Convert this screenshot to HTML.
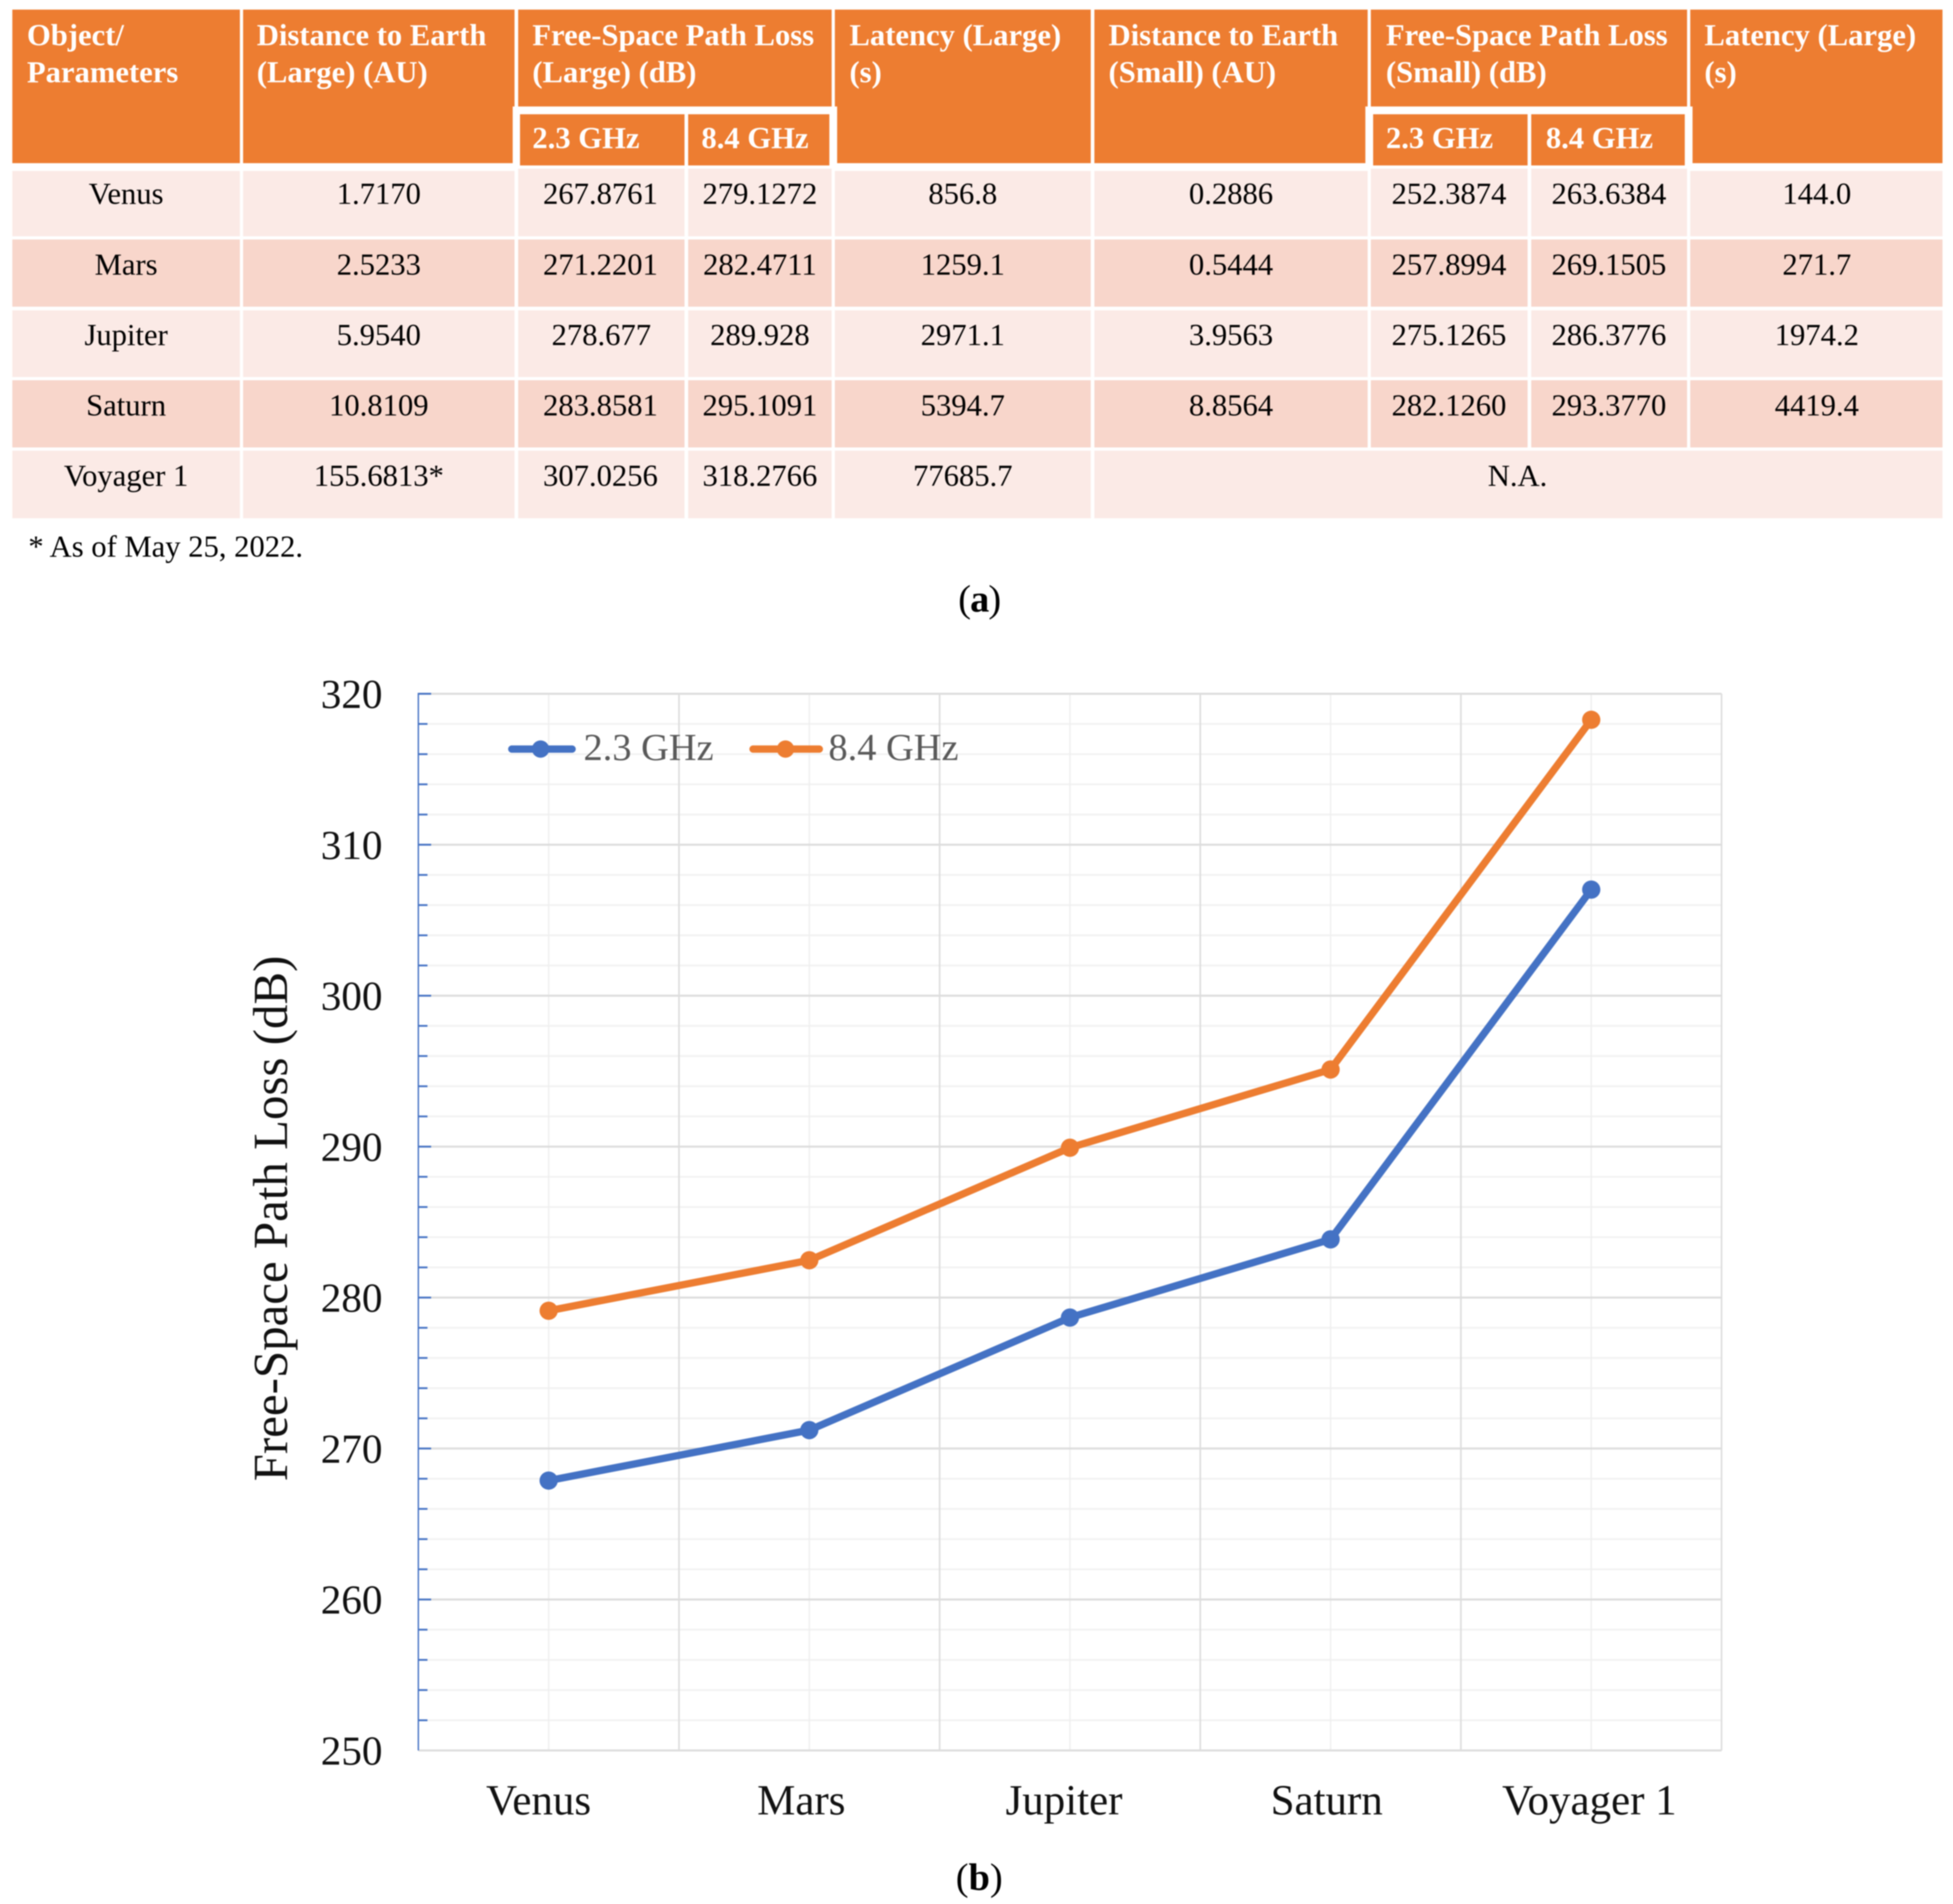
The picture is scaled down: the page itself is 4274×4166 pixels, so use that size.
<!DOCTYPE html>
<html lang="en">
<head>
<meta charset="utf-8">
<title>Free-Space Path Loss table and chart</title>
<style>
html,body{margin:0;padding:0;background:#fff;}
svg{display:block;font-family:"Liberation Serif",serif;filter:blur(1.2px);}
.h{fill:#ED7D31;}
.l{fill:#FBEAE6;}
.d{fill:#F8D6CB;}
.ht{fill:#fff;font-size:67px;font-weight:bold;}
.bt{fill:#000;font-size:67px;text-anchor:middle;}
</style>
</head>
<body>
<svg id="page" xmlns="http://www.w3.org/2000/svg" width="4274" height="4166" viewBox="0 0 4274 4166">
<rect x="0" y="0" width="4274" height="4166" fill="#fff"/>

<g>
<g>
<g><rect class="h" x="27" y="21" width="498" height="336"/><text class="ht" x="59" y="99">Object/</text><text class="ht" x="59" y="180">Parameters</text></g>
<g><polygon class="h" points="532,21 1126,21 1126,233 1122,233 1122,357 532,357"/><text class="ht" x="562" y="99">Distance to Earth</text><text class="ht" x="562" y="180">(Large) (AU)</text></g>
<g><rect class="h" x="1134" y="21" width="686" height="212"/><text class="ht" x="1165" y="99">Free-Space Path Loss</text><text class="ht" x="1165" y="180">(Large) (dB)</text></g>
<g><rect class="h" x="1138" y="250" width="360" height="112"/><text class="ht" x="1165" y="324">2.3 GHz</text></g>
<g><rect class="h" x="1506" y="250" width="309" height="112"/><text class="ht" x="1535" y="324">8.4 GHz</text></g>
<g><polygon class="h" points="1827,21 2387,21 2387,357 1832,357 1832,233 1827,233"/><text class="ht" x="1859" y="99">Latency (Large)</text><text class="ht" x="1859" y="180">(s)</text></g>
<g><polygon class="h" points="2395,21 2993,21 2993,233 2988,233 2988,357 2395,357"/><text class="ht" x="2426" y="99">Distance to Earth</text><text class="ht" x="2426" y="180">(Small) (AU)</text></g>
<g><rect class="h" x="3000" y="21" width="692" height="212"/><text class="ht" x="3033" y="99">Free-Space Path Loss</text><text class="ht" x="3033" y="180">(Small) (dB)</text></g>
<g><rect class="h" x="3005" y="250" width="338" height="112"/><text class="ht" x="3033" y="324">2.3 GHz</text></g>
<g><rect class="h" x="3351" y="250" width="336" height="112"/><text class="ht" x="3383" y="324">8.4 GHz</text></g>
<g><polygon class="h" points="3699,21 4251,21 4251,357 3704,357 3704,233 3699,233"/><text class="ht" x="3730" y="99">Latency (Large)</text><text class="ht" x="3730" y="180">(s)</text></g>
</g>

<g>
<rect class="l" x="27" y="374" width="498" height="143"/><text class="bt" x="276" y="446">Venus</text>
<rect class="l" x="532" y="374" width="594" height="143"/><text class="bt" x="829" y="446">1.7170</text>
<rect class="l" x="1134" y="369" width="364" height="148"/><text class="bt" x="1314" y="446">267.8761</text>
<rect class="l" x="1506" y="369" width="314" height="148"/><text class="bt" x="1663" y="446">279.1272</text>
<rect class="l" x="1827" y="374" width="560" height="143"/><text class="bt" x="2107" y="446">856.8</text>
<rect class="l" x="2395" y="374" width="598" height="143"/><text class="bt" x="2694" y="446">0.2886</text>
<rect class="l" x="3000" y="369" width="343" height="148"/><text class="bt" x="3171" y="446">252.3874</text>
<rect class="l" x="3351" y="369" width="341" height="148"/><text class="bt" x="3521" y="446">263.6384</text>
<rect class="l" x="3699" y="374" width="552" height="143"/><text class="bt" x="3976" y="446">144.0</text>
</g>
<g>
<rect class="d" x="27" y="524" width="498" height="147"/><text class="bt" x="276" y="601">Mars</text>
<rect class="d" x="532" y="524" width="594" height="147"/><text class="bt" x="829" y="601">2.5233</text>
<rect class="d" x="1134" y="524" width="364" height="147"/><text class="bt" x="1314" y="601">271.2201</text>
<rect class="d" x="1506" y="524" width="314" height="147"/><text class="bt" x="1663" y="601">282.4711</text>
<rect class="d" x="1827" y="524" width="560" height="147"/><text class="bt" x="2107" y="601">1259.1</text>
<rect class="d" x="2395" y="524" width="598" height="147"/><text class="bt" x="2694" y="601">0.5444</text>
<rect class="d" x="3000" y="524" width="343" height="147"/><text class="bt" x="3171" y="601">257.8994</text>
<rect class="d" x="3351" y="524" width="341" height="147"/><text class="bt" x="3521" y="601">269.1505</text>
<rect class="d" x="3699" y="524" width="552" height="147"/><text class="bt" x="3976" y="601">271.7</text>
</g>
<g>
<rect class="l" x="27" y="679" width="498" height="146"/><text class="bt" x="276" y="755">Jupiter</text>
<rect class="l" x="532" y="679" width="594" height="146"/><text class="bt" x="829" y="755">5.9540</text>
<rect class="l" x="1134" y="679" width="364" height="146"/><text class="bt" x="1316" y="755">278.677</text>
<rect class="l" x="1506" y="679" width="314" height="146"/><text class="bt" x="1663" y="755">289.928</text>
<rect class="l" x="1827" y="679" width="560" height="146"/><text class="bt" x="2107" y="755">2971.1</text>
<rect class="l" x="2395" y="679" width="598" height="146"/><text class="bt" x="2694" y="755">3.9563</text>
<rect class="l" x="3000" y="679" width="343" height="146"/><text class="bt" x="3171" y="755">275.1265</text>
<rect class="l" x="3351" y="679" width="341" height="146"/><text class="bt" x="3521" y="755">286.3776</text>
<rect class="l" x="3699" y="679" width="552" height="146"/><text class="bt" x="3976" y="755">1974.2</text>
</g>
<g>
<rect class="d" x="27" y="832" width="498" height="147"/><text class="bt" x="276" y="909">Saturn</text>
<rect class="d" x="532" y="832" width="594" height="147"/><text class="bt" x="829" y="909">10.8109</text>
<rect class="d" x="1134" y="832" width="364" height="147"/><text class="bt" x="1314" y="909">283.8581</text>
<rect class="d" x="1506" y="832" width="314" height="147"/><text class="bt" x="1663" y="909">295.1091</text>
<rect class="d" x="1827" y="832" width="560" height="147"/><text class="bt" x="2107" y="909">5394.7</text>
<rect class="d" x="2395" y="832" width="598" height="147"/><text class="bt" x="2694" y="909">8.8564</text>
<rect class="d" x="3000" y="832" width="343" height="147"/><text class="bt" x="3171" y="909">282.1260</text>
<rect class="d" x="3351" y="832" width="341" height="147"/><text class="bt" x="3521" y="909">293.3770</text>
<rect class="d" x="3699" y="832" width="552" height="147"/><text class="bt" x="3976" y="909">4419.4</text>
</g>
<g>
<rect class="l" x="27" y="986" width="498" height="148"/><text class="bt" x="276" y="1063">Voyager 1</text>
<rect class="l" x="532" y="986" width="594" height="148"/><text class="bt" x="829" y="1063">155.6813*</text>
<rect class="l" x="1134" y="986" width="364" height="148"/><text class="bt" x="1314" y="1063">307.0256</text>
<rect class="l" x="1506" y="986" width="314" height="148"/><text class="bt" x="1663" y="1063">318.2766</text>
<rect class="l" x="1827" y="986" width="560" height="148"/><text class="bt" x="2107" y="1063">77685.7</text>
<rect class="l" x="2395" y="986" width="1856" height="148"/><text class="bt" x="3321" y="1063">N.A.</text>
</g>
</g>

<text x="62" y="1218" font-size="67" fill="#000">* As of May 25, 2022.</text>
<text x="2143" y="1338" font-size="84" fill="#000" text-anchor="middle" letter-spacing="-2">(<tspan font-weight="bold">a</tspan>)</text>

<g id="chart"></g>

<text x="628" y="2666" transform="rotate(-90 628 2666)" font-size="107" fill="#111" text-anchor="middle">Free-Space Path Loss (dB)</text>

<text x="2143" y="4135" font-size="84" fill="#000" text-anchor="middle">(<tspan font-weight="bold">b</tspan>)</text>
</svg>

<script>
const categories = ["Venus", "Mars", "Jupiter", "Saturn", "Voyager 1"];
const loss23GHz = [267.8761, 271.2201, 278.677, 283.8581, 307.0256];
const loss84GHz = [279.1272, 282.4711, 289.928, 295.1091, 318.2766];
const yTickLabels = [250, 260, 270, 280, 290, 300, 310, 320];
const yMinorStep = 2;

const plotLeft = 915.5, plotRight = 3767.5, plotTop = 1518, plotBottom = 3830;
const yMin = yTickLabels[0], yMax = yTickLabels[yTickLabels.length - 1];
const band = (plotRight - plotLeft) / categories.length;

function xScale(i) { return plotLeft + band * (i + 0.5); }
function xEdge(i) { return plotLeft + band * i; }
function yScale(v) { return plotBottom - (v - yMin) / (yMax - yMin) * (plotBottom - plotTop); }

const chart = document.getElementById('chart');
function make(tag, attrs, parent) {
  const el = document.createElementNS('http://www.w3.org/2000/svg', tag);
  for (const k in attrs) el.setAttribute(k, attrs[k]);
  (parent || chart).appendChild(el);
  return el;
}

// horizontal minor gridlines
for (let v = yMin; v <= yMax; v += yMinorStep) {
  if ((v - yMin) % 10 === 0) continue;
  let el = make('line', {x1: plotLeft, x2: plotRight, y1: yScale(v), y2: yScale(v), stroke: '#F2F2F2', 'stroke-width': 4});
  
  
}
// vertical minor gridlines at category centres
categories.forEach(function (c, i) {
  let el = make('line', {x1: xScale(i), x2: xScale(i), y1: plotTop, y2: plotBottom, stroke: '#EFEFEF', 'stroke-width': 3});
  
  
});
// vertical major gridlines at category edges
for (let i = 1; i <= categories.length; i++) {
  let el = make('line', {x1: xEdge(i), x2: xEdge(i), y1: plotTop, y2: plotBottom, stroke: '#DDDDDD', 'stroke-width': 3.5});
  
  
}
// horizontal major gridlines
yTickLabels.forEach(function (v) {
  let el = make('line', {x1: plotLeft, x2: plotRight, y1: yScale(v), y2: yScale(v), stroke: '#DDDDDD', 'stroke-width': 4.5});
  
  
});
// y axis line
let yAxisLine = make('line', {x1: plotLeft, x2: plotLeft, y1: plotTop - 2, y2: plotBottom, stroke: '#4472C4', 'stroke-width': 3});


// ticks
for (let v = yMin; v <= yMax; v += yMinorStep) {
  const major = (v - yMin) % 10 === 0;
  if (v === yMin) continue;
  let el = make('line', {x1: plotLeft, x2: plotLeft + (major ? 28 : 20), y1: yScale(v), y2: yScale(v), stroke: '#4472C4', 'stroke-width': 4});
  
  
}
// y tick labels
yTickLabels.forEach(function (v) {
  let el = make('text', {x: 837, y: yScale(v) + 31, 'font-size': 90, fill: '#111', 'text-anchor': 'end'});
  el.textContent = v;
  
  
});
// x tick labels
categories.forEach(function (c, i) {
  let el = make('text', {x: xScale(i) - 22 + 4.5 * i, y: 3970, 'font-size': 94, fill: '#111', 'text-anchor': 'middle'});
  el.textContent = c;
  
  
});

function linePoints(values) {
  return values.map(function (v, i) { return xScale(i) + ',' + yScale(v); }).join(' ');
}
// series 2.3 GHz
let line23 = make('polyline', {points: linePoints(loss23GHz), fill: 'none', stroke: '#4472C4', 'stroke-width': 16, 'stroke-linejoin': 'round', 'stroke-linecap': 'round'});


loss23GHz.forEach(function (v, i) {
  let el = make('circle', {cx: xScale(i), cy: yScale(v), r: 20, fill: '#4472C4'});
  
  
});
// series 8.4 GHz
let line84 = make('polyline', {points: linePoints(loss84GHz), fill: 'none', stroke: '#ED7D31', 'stroke-width': 16, 'stroke-linejoin': 'round', 'stroke-linecap': 'round'});


loss84GHz.forEach(function (v, i) {
  let el = make('circle', {cx: xScale(i), cy: yScale(v), r: 20, fill: '#ED7D31'});
  
  
});

// legend
let leg1 = make('g', {});


make('line', {x1: 1120, x2: 1252, y1: 1639, y2: 1639, stroke: '#4472C4', 'stroke-width': 16, 'stroke-linecap': 'round'}, leg1);
make('circle', {cx: 1183, cy: 1639, r: 19, fill: '#4472C4'}, leg1);
let legText1 = make('text', {x: 1277, y: 1663, 'font-size': 84, fill: '#595959'}, leg1);
legText1.textContent = '2.3 GHz';

let leg2 = make('g', {});


make('line', {x1: 1648, x2: 1793, y1: 1639, y2: 1639, stroke: '#ED7D31', 'stroke-width': 16, 'stroke-linecap': 'round'}, leg2);
make('circle', {cx: 1719, cy: 1639, r: 19, fill: '#ED7D31'}, leg2);
let legText2 = make('text', {x: 1813, y: 1663, 'font-size': 84, fill: '#595959'}, leg2);
legText2.textContent = '8.4 GHz';
</script>
</body>
</html>
